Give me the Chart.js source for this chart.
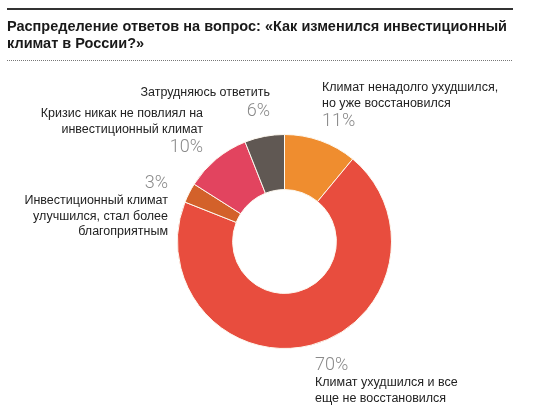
<!DOCTYPE html>
<html>
<head>
<meta charset="utf-8">
<script src="https://cdn.jsdelivr.net/npm/chart.js@4/dist/chart.umd.min.js"></script>
<style>
  html, body { margin: 0; padding: 0; background: #fff; }
  #wrap { width: 541px; height: 414px; }
</style>
</head>
<body>
<div id="wrap"><canvas id="myChart" width="541" height="414"></canvas></div>
<script>
// data, clockwise from 12 o'clock
var labels = [
  ['Климат ненадолго ухудшился,', 'но уже восстановился'],
  ['Климат ухудшился и все', 'еще не восстановился'],
  ['Инвестиционный климат', 'улучшился, стал более', 'благоприятным'],
  ['Кризис никак не повлиял на', 'инвестиционный климат'],
  ['Затрудняюсь ответить']
];
var values = [11, 70, 3, 10, 6];
var sliceColors = ['#ef8d2f', '#e84d3e', '#d3612a', '#e2445f', '#605853'];

var titleLines = [
  'Распределение ответов на вопрос: «Как изменился инвестиционный',
  'климат в России?»'
];

// where each label block goes: x, y of first line, text align, percent above/below
var labelPos = [
  {x: 322, y: 88, align: 'left', pct: 'below'},
  {x: 315, y: 383, align: 'left', pct: 'above'},
  {x: 168, y: 201, align: 'right', pct: 'above'},
  {x: 203, y: 114, align: 'right', pct: 'below'},
  {x: 270, y: 93, align: 'right', pct: 'below'}
];

var decor = {
  id: 'decor',
  afterDraw: function(chart) {
    var c = chart.ctx;
    c.save();
    // heavy rule on top
    c.fillStyle = '#333';
    c.fillRect(7, 8, 506, 2);
    // title
    c.fillStyle = '#1a1a1a';
    c.font = 'bold 14.5px "Liberation Sans", Arial, sans-serif';
    c.textAlign = 'left';
    c.textBaseline = 'middle';
    c.fillText(titleLines[0], 7, 27);
    c.fillText(titleLines[1], 7, 44);
    // dotted rule
    c.fillStyle = '#777';
    for (var x = 7; x < 513; x += 2) c.fillRect(x, 60, 1, 1);

    // slice labels
    labels.forEach(function(lines, i) {
      var p = labelPos[i];
      c.textAlign = p.align;
      var lh = 15.5;
      c.font = '12.5px "Liberation Sans", Arial, sans-serif';
      c.fillStyle = '#222';
      lines.forEach(function(t, k) { c.fillText(t, p.x, p.y + k * lh); });
      c.font = '300 18px Roboto, "Open Sans", sans-serif';
      c.fillStyle = '#8a8a8a';
      var py = p.pct === 'below' ? p.y + (lines.length - 1) * lh + 18 : p.y - 18;
      c.fillText(values[i] + '%', p.x, py);
    });
    c.restore();
  }
};

var ctx = document.getElementById('myChart').getContext('2d');
var myChart = new Chart(ctx, {
  type: 'doughnut',
  data: {
    labels: labels.map(function(l) { return l.join(' '); }),
    datasets: [{
      data: values,
      backgroundColor: sliceColors,
      borderColor: '#fdf8ef',
      borderWidth: 1
    }]
  },
  options: {
    responsive: false,
    animation: false,
    cutout: '48.5%',
    layout: { padding: { left: 177, right: 149, top: 134, bottom: 65 } },
    plugins: {
      legend: { display: false },
      tooltip: { enabled: false }
    }
  },
  plugins: [decor]
});
</script>
</body>
</html>
